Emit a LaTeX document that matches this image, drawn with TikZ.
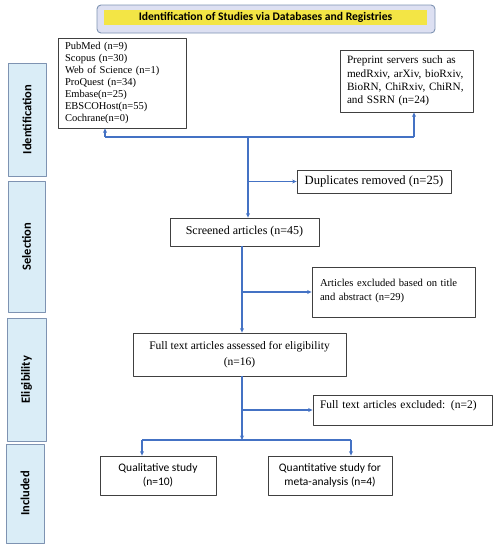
\documentclass[tikz,border=0pt]{standalone}
\usepackage{fontspec}
\setmainfont{Liberation Serif}
\newfontfamily\calib{Carlito}
\usepackage{xcolor}
\usetikzlibrary{arrows.meta,calc}

\definecolor{flowblue}{HTML}{4472C4}
\definecolor{sidefill}{HTML}{DAEDF7}
\definecolor{sideline}{HTML}{7E93B2}
\definecolor{headfill}{HTML}{DDE0F2}
\definecolor{headbar}{HTML}{F3E545}

\tikzset{
  box/.style={draw=black!75,line width=0.8pt,inner sep=0pt,fill=white},
  sidebox/.style={draw=sideline,line width=0.9pt,fill=sidefill,rotate=90,inner sep=0pt,
    font=\calib\bfseries\fontsize{12.5}{14}\selectfont},
  flow/.style={draw=flowblue,line width=1.4pt},
  flowarr/.style={flow,-{Stealth[length=4.5pt,width=4pt]}}
}

\begin{document}
\begin{tikzpicture}[x=1pt,y=-1pt,line join=round]
  \useasboundingbox (0,0) rectangle (497,550);
  % heading
  \node[draw=sideline,line width=0.9pt,fill=headfill,rounded corners=4pt,minimum width=338,minimum height=28,inner sep=0pt]
    (head) at (266,19) {};
  \node[fill=headbar,minimum width=323,minimum height=15,inner sep=0pt,font=\calib\bfseries\fontsize{11.6}{13}\selectfont]
    (headtxt) at (265.5,17.5) {Identification of Studies via Databases and Registries};
  % phase labels
  \node[sidebox,minimum width=113,minimum height=38] (sIdent) at (27,119.5) {Identification};
  \node[sidebox,minimum width=131,minimum height=37] (sSel) at (26.5,246.5) {Selection};
  \node[sidebox,minimum width=123,minimum height=39] (sElig) at (26.5,379.5) {Eligibility};
  \node[sidebox,minimum width=99,minimum height=38] (sIncl) at (25,493.5) {Included};
  % records
  \node[box,minimum width=128,minimum height=90,text width=114,align=left,font=\fontsize{10.5}{12}\selectfont]
    (db) at (122,83) {PubMed (n=9)\\Scopus (n=30)\\Web of Science (n=1)\\ProQuest (n=34)\\Embase(n=25)\\EBSCOHost(n=55)\\Cochrane(n=0)};
  \node[box,minimum width=133,minimum height=62,text width=119,align=left,font=\fontsize{11.2}{13.2}\selectfont]
    (pre) at (406.5,81) {Preprint servers such as\\medRxiv, arXiv, bioRxiv,\\BioRN, ChiRxiv, ChiRN,\\and SSRN (n=24)};
  \node[box,minimum width=154,minimum height=23,font=\fontsize{12.6}{14}\selectfont]
    (dup) at (374,181.5) {Duplicates removed (n=25)};
  \node[box,minimum width=149,minimum height=28,font=\fontsize{12}{14}\selectfont]
    (scr) at (244.5,232) {Screened articles (n=45)};
  \node[box,minimum width=163,minimum height=50,text width=147,align=left,text depth=18pt,font=\fontsize{10.6}{14}\selectfont]
    (exc1) at (393.5,292) {Articles excluded based on title\\and abstract (n=29)};
  \node[box,minimum width=213,minimum height=43,align=center,font=\fontsize{11.5}{16}\selectfont]
    (full) at (239.5,354.5) {Full text articles assessed for eligibility\\(n=16)};
  \node[box,minimum width=179,minimum height=30,text width=165,align=left,text depth=11pt,font=\fontsize{11.5}{14}\selectfont]
    (exc2) at (402.5,410) {Full text articles excluded: (n=2)};
  \node[box,minimum width=116,minimum height=39,align=center,font=\calib\fontsize{11.5}{14}\selectfont]
    (qual) at (158,475.5) {Qualitative study\\(n=10)};
  \node[box,minimum width=124,minimum height=39,align=center,font=\calib\fontsize{11.5}{14}\selectfont]
    (quan) at (330,475.5) {Quantitative study for\\meta-analysis (n=4)};
  % junctions
  \coordinate (jL) at (105,137);
  \coordinate (jM) at (248,137);
  \coordinate (jR) at (414,137);
  \coordinate (jS) at (242,246);
  \coordinate (jF) at (242,440);
  \coordinate (jQl) at (142,440);
  \coordinate (jQn) at (351,440);
  % connectors
  \draw[flow] (jL) -- (jR);
  \draw[flowarr] (jL) -- (jL |- db.south);
  \draw[flowarr] (jR) -- (jR |- pre.south);
  \draw[flowarr] (jM) -- (jM |- scr.north);
  \draw[flowarr] (jM |- dup.west) -- (dup.west);
  \draw[flowarr] (jS |- scr.south) -- (jS |- full.north);
  \draw[flowarr] (jS |- exc1.west) -- (exc1.west);
  \draw[flowarr] (jS |- full.south) -- (jF);
  \draw[flowarr] (jS |- exc2.west) -- (exc2.west);
  \draw[flow] (jQl) -- (jQn);
  \draw[flowarr] (jQl) -- (jQl |- qual.north);
  \draw[flowarr] (jQn) -- (jQn |- quan.north);
\end{tikzpicture}
\end{document}
